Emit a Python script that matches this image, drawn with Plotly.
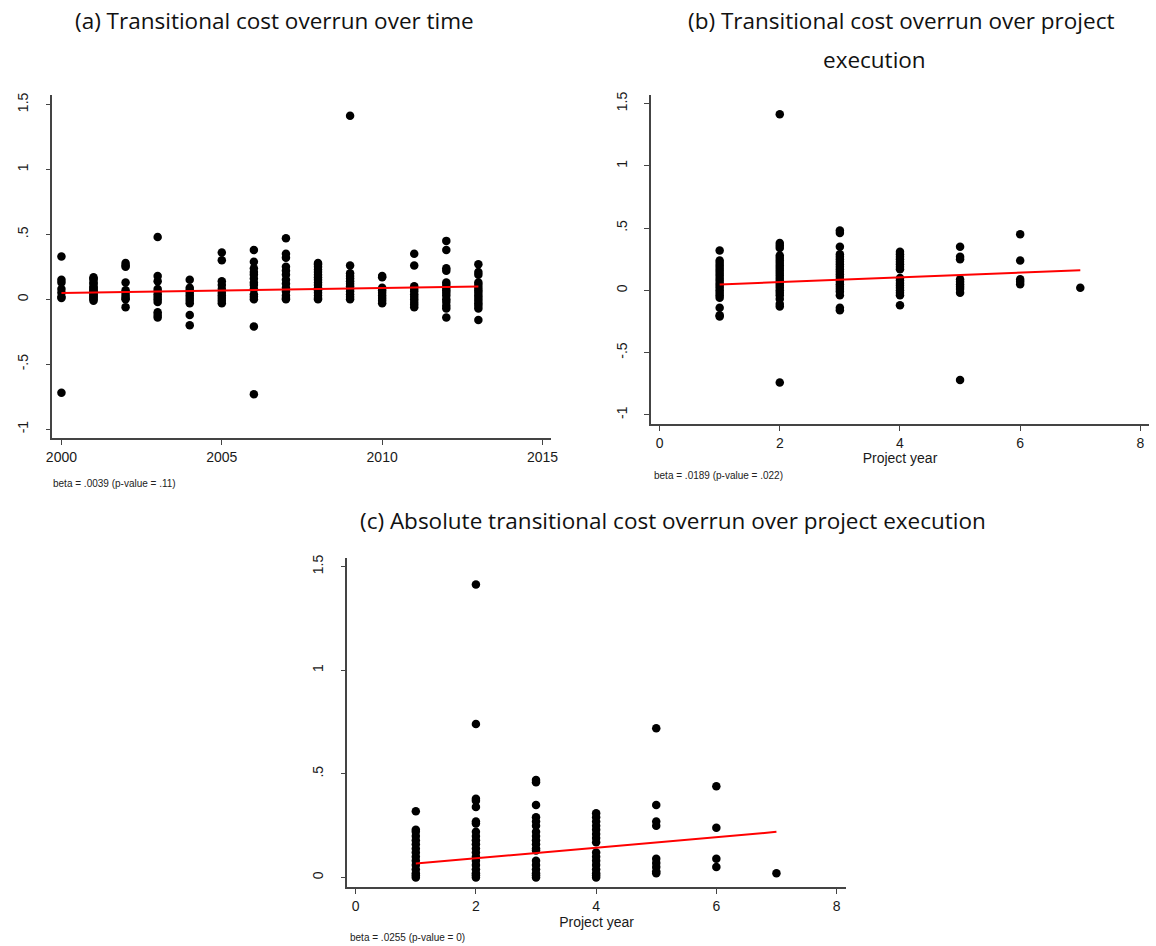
import plotly.graph_objects as go

# ---- panel (a): transitional cost overrun by calendar year ----
years_a = [2000, 2001, 2002, 2003, 2004, 2005, 2006, 2007, 2008, 2009, 2010, 2011, 2012, 2013]
overrun_by_year = {
    2000: [0.33, 0.15, 0.13, 0.08, 0.05, 0.02, 0.01, -0.72],
    2001: [0.17, 0.16, 0.15, 0.13, 0.12, 0.10, 0.09, 0.08, 0.07, 0.06, 0.05, 0.04, 0.03, 0.02, 0.01, 0.0, -0.01],
    2002: [0.28, 0.26, 0.25, 0.13, 0.07, 0.05, 0.03, 0.01, 0.0, -0.06],
    2003: [0.48, 0.18, 0.14, 0.08, 0.06, 0.04, 0.02, 0.0, -0.02, -0.10, -0.12, -0.14],
    2004: [0.15, 0.09, 0.07, 0.05, 0.03, 0.01, -0.01, -0.03, -0.12, -0.20],
    2005: [0.36, 0.30, 0.14, 0.11, 0.08, 0.05, 0.03, 0.01, -0.01, -0.03],
    2006: [0.38, 0.29, 0.24, 0.21, 0.19, 0.16, 0.13, 0.11, 0.08, 0.04, 0.02, 0.0, -0.21, -0.73],
    2007: [0.47, 0.35, 0.32, 0.25, 0.22, 0.19, 0.15, 0.12, 0.09, 0.06, 0.03, 0.01, 0.0],
    2008: [0.28, 0.27, 0.25, 0.23, 0.21, 0.19, 0.17, 0.15, 0.13, 0.11, 0.09, 0.07, 0.05, 0.03, 0.01, 0.0],
    2009: [1.414, 0.26, 0.20, 0.18, 0.16, 0.14, 0.12, 0.10, 0.08, 0.06, 0.04, 0.02, 0.0],
    2010: [0.18, 0.17, 0.09, 0.07, 0.05, 0.03, 0.01, -0.01, -0.03],
    2011: [0.35, 0.26, 0.10, 0.08, 0.06, 0.04, 0.02, 0.0, -0.02, -0.04, -0.06],
    2012: [0.45, 0.38, 0.24, 0.22, 0.13, 0.11, 0.09, 0.07, 0.05, 0.03, 0.0, -0.02, -0.05, -0.07, -0.14],
    2013: [0.27, 0.21, 0.19, 0.13, 0.11, 0.09, 0.07, 0.05, 0.03, 0.01, -0.01, -0.03, -0.05, -0.07, -0.16],
}
beta_a, intercept_a = 0.0039, 0.049  # fitted at year 2000

# ---- panel (b): transitional cost overrun by project year ----
project_years = [1, 2, 3, 4, 5, 6, 7]
overrun_by_pyear = {
    1: [0.32, 0.24, 0.22, 0.20, 0.18, 0.16, 0.14, 0.12, 0.10, 0.08, 0.06, 0.04, 0.02, 0.0,
        -0.02, -0.04, -0.06, -0.14, -0.20, -0.21],
    2: [1.414, 0.38, 0.36, 0.34, 0.28, 0.26, 0.24, 0.22, 0.20, 0.18, 0.16, 0.14, 0.12, 0.10,
        0.08, 0.06, 0.04, 0.02, 0.0, -0.02, -0.04, -0.07, -0.11, -0.13, -0.74],
    3: [0.48, 0.46, 0.35, 0.29, 0.27, 0.25, 0.23, 0.21, 0.19, 0.17, 0.15, 0.13, 0.11, 0.09,
        0.07, 0.05, 0.03, 0.01, -0.01, -0.04, -0.14, -0.16],
    4: [0.31, 0.29, 0.27, 0.25, 0.23, 0.21, 0.19, 0.17, 0.10, 0.08, 0.06, 0.04, 0.02, 0.0,
        -0.02, -0.04, -0.12],
    5: [0.35, 0.27, 0.25, 0.09, 0.07, 0.05, 0.03, 0.01, -0.02, -0.72],
    6: [0.45, 0.24, 0.09, 0.07, 0.05],
    7: [0.02],
}
beta_b, intercept_b = 0.0189, 0.0291

# ---- panel (c): absolute transitional cost overrun by project year ----
abs_overrun_by_pyear = {
    1: [0.32, 0.23, 0.22, 0.20, 0.18, 0.16, 0.14, 0.12, 0.10, 0.08, 0.06, 0.04, 0.02, 0.01, 0.0],
    2: [1.414, 0.74, 0.38, 0.37, 0.34, 0.27, 0.26, 0.22, 0.20, 0.18, 0.16, 0.14, 0.12, 0.10,
        0.08, 0.06, 0.04, 0.02, 0.01, 0.0],
    3: [0.47, 0.46, 0.35, 0.29, 0.27, 0.25, 0.22, 0.20, 0.18, 0.16, 0.14, 0.13, 0.08, 0.06,
        0.04, 0.02, 0.01, 0.0],
    4: [0.31, 0.29, 0.27, 0.25, 0.23, 0.21, 0.19, 0.17, 0.12, 0.10, 0.08, 0.06, 0.04, 0.02, 0.01, 0.0],
    5: [0.72, 0.35, 0.27, 0.25, 0.09, 0.07, 0.05, 0.03, 0.02],
    6: [0.44, 0.24, 0.09, 0.05],
    7: [0.02],
}
beta_c, intercept_c = 0.0255, 0.0415

y_ticks = [-1, -0.5, 0, 0.5, 1, 1.5]
y_ticktext = ["-1", "-.5", "0", ".5", "1", "1.5"]
x_ticks_a = [2000, 2005, 2010, 2015]
x_ticks_pyear = [0, 2, 4, 6, 8]

titles = {
    "a": "(a) Transitional cost overrun over time",
    "b1": "(b) Transitional cost overrun over project",
    "b2": "execution",
    "c": "(c) Absolute transitional cost overrun over project execution",
}
notes = {
    "a": "beta = .0039 (p-value = .11)",
    "b": "beta = .0189 (p-value = .022)",
    "c": "beta = .0255 (p-value = 0)",
}

W, H = 1156, 946
DOT = dict(color="black", size=8.5)
FIT = dict(color="#ff0000", width=2)


def flatten(groups):
    xs, ys = [], []
    for k, vals in groups.items():
        xs += [k] * len(vals)
        ys += vals
    return xs, ys


fig = go.Figure()

panels = [
    ("x", "y", overrun_by_year, beta_a, intercept_a, 2000),
    ("x2", "y2", overrun_by_pyear, beta_b, intercept_b, 0),
    ("x3", "y3", abs_overrun_by_pyear, beta_c, intercept_c, 0),
]
for xa, ya, groups, beta, icpt, x0 in panels:
    xs, ys = flatten(groups)
    fig.add_trace(go.Scatter(x=xs, y=ys, mode="markers", marker=DOT,
                             xaxis=xa, yaxis=ya, showlegend=False))
    lo, hi = min(groups), max(groups)
    fig.add_trace(go.Scatter(x=[lo, hi], y=[icpt + beta * (lo - x0), icpt + beta * (hi - x0)],
                             mode="lines", line=FIT, xaxis=xa, yaxis=ya, showlegend=False))


def px_x(p):
    return p / W


def px_y(p):
    return 1 - p / H


tick_font = dict(family="Liberation Sans, Arial, sans-serif", size=14, color="#1a1a1a")
axis_common = dict(showgrid=False, zeroline=False, showline=True, linecolor="#444",
                   linewidth=1.5, ticks="outside", ticklen=5, tickcolor="#444",
                   tickwidth=1, tickfont=tick_font)
yaxis_extra = dict(tickvals=y_ticks, ticktext=y_ticktext, tickangle=-90, ticklabelstandoff=12)

fig.update_layout(
    width=W, height=H,
    margin=dict(l=0, r=0, t=0, b=0),
    paper_bgcolor="white", plot_bgcolor="white",
    xaxis=dict(domain=[px_x(47), px_x(551.7)], range=[1999.72, 2015.28], anchor="y",
               tickvals=x_ticks_a, **axis_common),
    yaxis=dict(domain=[px_y(436.7), px_y(92.3)], range=[-1.07, 1.573], anchor="x",
               **yaxis_extra, **axis_common),
    xaxis2=dict(domain=[px_x(652.3), 1.0], range=[-0.143, 8.143], anchor="y2",
                tickvals=x_ticks_pyear, **axis_common,
                title=dict(text="Project year", font=tick_font, standoff=1)),
    yaxis2=dict(domain=[px_y(422.3), px_y(92.3)], range=[-1.073, 1.569], anchor="x2",
                **yaxis_extra, **axis_common),
    xaxis3=dict(domain=[px_x(345.3), px_x(849.3)], range=[-0.138, 8.153], anchor="y3",
                tickvals=x_ticks_pyear, **axis_common,
                title=dict(text="Project year", font=tick_font, standoff=1)),
    yaxis3=dict(domain=[px_y(887), px_y(556.7)], range=[-0.047, 1.542], anchor="x3",
                **yaxis_extra, **axis_common),
)

title_font = dict(family="Open Sans, Lato, sans-serif", size=22.5, color="#111")
note_font = dict(family="Liberation Sans, Arial, sans-serif", size=10, color="#222")


def text_at(txt, x, y, font, xanchor="center"):
    fig.add_annotation(text=txt, x=px_x(x), y=px_y(y), xref="paper", yref="paper",
                       xanchor=xanchor, yanchor="middle", showarrow=False, font=font)


text_at(titles["a"], 272, 18, title_font)
text_at(titles["b1"], 905, 18, title_font)
text_at(titles["b2"], 878, 57, title_font)
text_at(titles["c"], 675, 519, title_font)
text_at(notes["a"], 46, 482, note_font, "left")
text_at(notes["b"], 653, 474, note_font, "left")
text_at(notes["c"], 346, 937, note_font, "left")

fig.write_html("out.html")
